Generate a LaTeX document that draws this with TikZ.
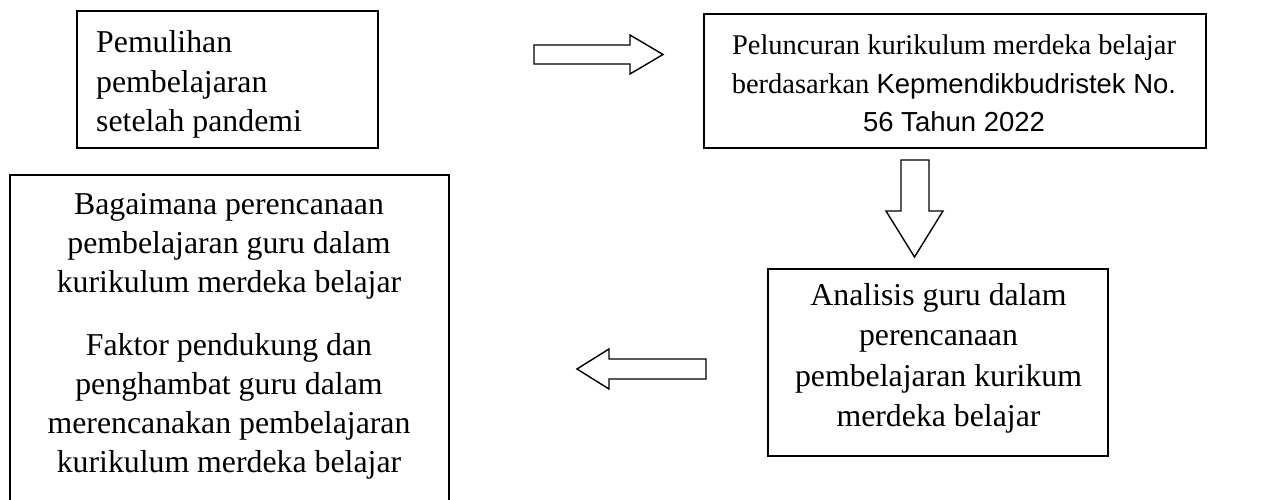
\documentclass[tikz,border=0pt]{standalone}
\usepackage{fontspec}
\setmainfont{Liberation Serif}
\newfontfamily\arialf{Liberation Sans}
\begin{document}
\begin{tikzpicture}[x=1pt,y=-1pt,
  box/.style={draw,line width=1.6pt,inner sep=0pt,anchor=north west},
  txt/.style={inner sep=0pt,align=center},
  blockarrow/.style={draw,line width=1.4pt,fill=white,line join=miter}]
\clip (0,0) rectangle (1267,500);
\fill[white] (0,0) rectangle (1267,500);
% boxes
\node[box,minimum width=301pt,minimum height=137pt] (b1) at (76,10) {};
\node[box,minimum width=502pt,minimum height=134pt] (b2) at (703,13) {};
\node[box,minimum width=439pt,minimum height=360pt] (b3) at (9,174) {};
\node[box,minimum width=340pt,minimum height=187pt] (b4) at (767,268) {};
% texts
\node[txt,align=left,anchor=west,font=\fontsize{31.8}{39.5}\selectfont] (t1) at (96,84.6)
  {\strut Pemulihan\\pembelajaran\\setelah pandemi\strut};
\node[txt,font=\fontsize{28.5}{38.5}\selectfont] (t2) at (954,85.8)
  {\strut Peluncuran kurikulum merdeka belajar\\berdasarkan {\arialf\fontsize{27.5}{38.5}\selectfont Kepmendikbudristek No.}\\{\arialf\fontsize{27.5}{38.5}\selectfont 56 Tahun 2022\strut}};
\node[txt,font=\fontsize{31.8}{39}\selectfont] (t3a) at (229,245.2)
  {\strut Bagaimana perencanaan\\pembelajaran guru dalam\\kurikulum merdeka belajar\strut};
\node[txt,font=\fontsize{31.8}{39}\selectfont] (t3b) at (229,405.7)
  {\strut Faktor pendukung dan\\penghambat guru dalam\\merencanakan pembelajaran\\kurikulum merdeka belajar\strut};
\node[txt,font=\fontsize{31.8}{40.3}\selectfont] (t4) at (938.5,357.9)
  {\strut Analisis guru dalam\\perencanaan\\pembelajaran kurikum\\merdeka belajar\strut};
% block arrows
\draw[blockarrow] (534,45) -- (630,45) -- (630,35) -- (663,54.5) -- (630,74) -- (630,64) -- (534,64) -- cycle;
\draw[blockarrow] (901,160) -- (929,160) -- (929,211) -- (943,211) -- (914.5,257) -- (886,211) -- (901,211) -- cycle;
\draw[blockarrow] (706,359) -- (609,359) -- (609,349) -- (577,369) -- (609,389) -- (609,379) -- (706,379) -- cycle;
\end{tikzpicture}
\end{document}
